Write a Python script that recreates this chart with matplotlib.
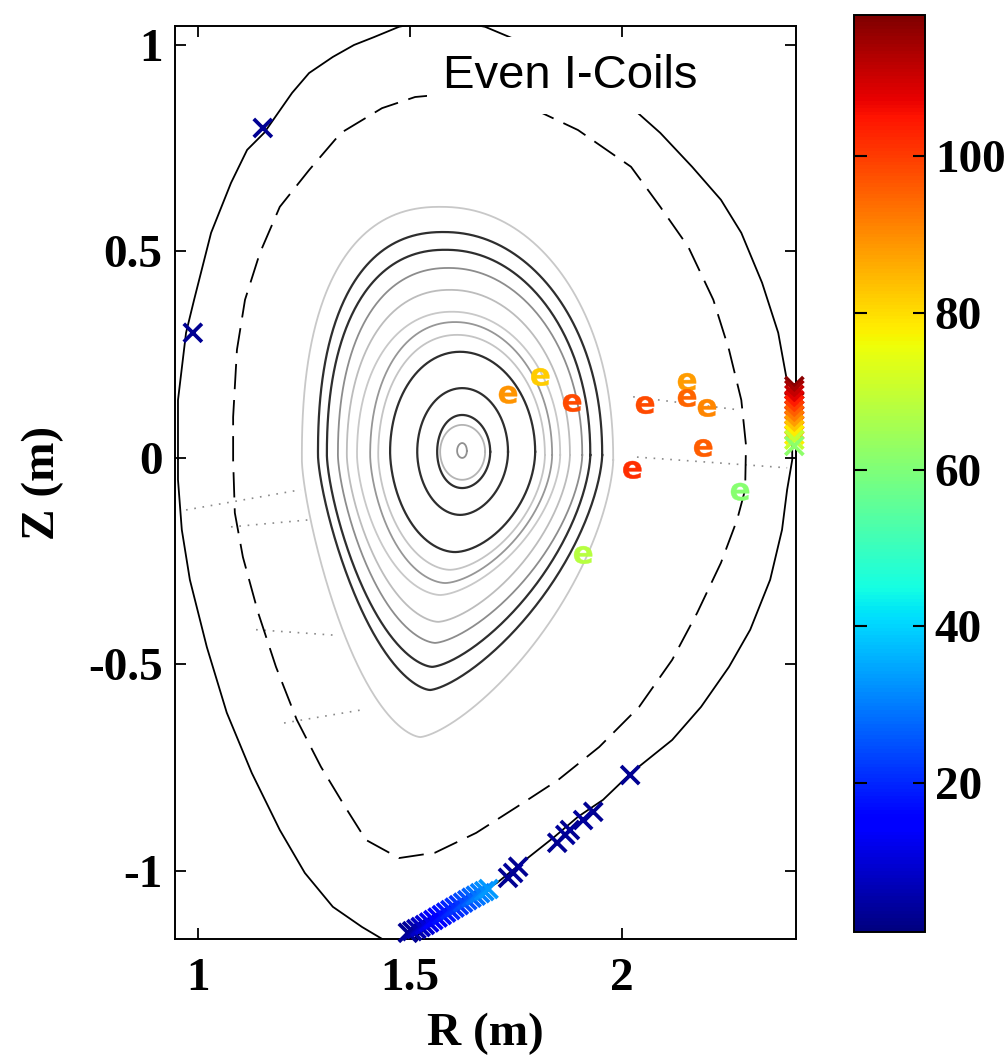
import matplotlib
matplotlib.use('Agg')
import matplotlib.pyplot as plt
import matplotlib.colors as mcolors
import matplotlib.cm as cm
import numpy as np

plt.rcParams['axes.unicode_minus'] = False
plt.rcParams['font.family'] = 'Liberation Serif'
plt.rcParams['font.weight'] = 'bold'

# vessel wall (m)
wall_r = [0.953, 0.953, 0.972, 0.991, 1.031, 1.078, 1.116, 1.156, 1.222, 1.262, 1.318, 1.368, 1.415,
          1.474, 1.571, 1.677, 1.807, 1.925, 2.021, 2.090, 2.165, 2.233, 2.281, 2.330, 2.368, 2.387,
          2.401, 2.401, 2.389, 2.377, 2.349, 2.302, 2.252, 2.186, 2.118, 2.021, 1.955, 1.896, 1.840,
          1.781, 1.705, 1.618, 1.547, 1.512, 1.476, 1.441, 1.387, 1.318, 1.252, 1.193, 1.127,
          1.068, 1.021, 0.981, 0.962, 0.953, 0.953]
wall_z = [-0.002, 0.140, 0.303, 0.383, 0.545, 0.666, 0.746, 0.787, 0.884, 0.932, 0.971, 1.000, 1.019,
          1.044, 1.065, 1.044, 0.988, 0.920, 0.850, 0.787, 0.705, 0.625, 0.545, 0.424, 0.303, 0.196,
          0.044, -0.005, -0.077, -0.174, -0.295, -0.416, -0.506, -0.603, -0.683, -0.763, -0.828, -0.869, -0.918,
          -0.966, -1.029, -1.082, -1.131, -1.162, -1.177, -1.169, -1.136, -1.087, -1.005, -0.901, -0.763,
          -0.617, -0.458, -0.295, -0.174, -0.053, -0.002]

# dashed boundary
bdry_r = [1.618, 1.781, 1.896, 2.021, 2.090, 2.156, 2.215, 2.252, 2.281, 2.292, 2.290, 2.271,
          2.233, 2.177, 2.118, 2.040, 1.946, 1.849, 1.752, 1.656, 1.559, 1.474, 1.396, 1.347,
          1.290, 1.233, 1.184, 1.142, 1.106, 1.087, 1.083, 1.083, 1.092, 1.111, 1.146, 1.193,
          1.262, 1.337, 1.434, 1.512, 1.618]
bdry_z = [0.884, 0.850, 0.794, 0.705, 0.608, 0.511, 0.383, 0.262, 0.140, 0.031, -0.077, -0.150,
          -0.254, -0.375, -0.489, -0.603, -0.700, -0.780, -0.845, -0.908, -0.956, -0.969, -0.925, -0.845,
          -0.748, -0.634, -0.506, -0.375, -0.240, -0.133, -0.005, 0.099, 0.262, 0.383, 0.496, 0.608,
          0.697, 0.787, 0.847, 0.874, 0.884]

# flux surfaces, outside in
surf_rin = [1.245, 1.283, 1.304, 1.330, 1.351, 1.375, 1.406, 1.425, 1.453, 1.517, 1.564, 1.571, 1.611]
surf_rout = [1.979, 1.953, 1.925, 1.906, 1.877, 1.854, 1.835, 1.818, 1.795, 1.731, 1.689, 1.677, 1.634]
surf_ztop = [0.608, 0.547, 0.504, 0.460, 0.407, 0.354, 0.329, 0.298, 0.257, 0.169, 0.104, 0.080, 0.036]
surf_zbot = [-0.676, -0.562, -0.506, -0.448, -0.397, -0.332, -0.303, -0.271, -0.228, -0.138, -0.073, -0.053, 0.000]
surf_rtop = [1.571, 1.578, 1.583, 1.590, 1.594, 1.599, 1.606, 1.611, 1.618, 1.623, 1.623, 1.623, 1.623]
surf_rbot = [1.524, 1.547, 1.552, 1.559, 1.566, 1.571, 1.583, 1.594, 1.606, 1.618, 1.623, 1.623, 1.623]
surf_zmid = [-0.005, 0.007, 0.007, 0.007, 0.007, 0.007, 0.007, 0.007, 0.015, 0.015, 0.015, 0.015, 0.017]
surf_pt_low = [1.33, 1.33, 1.3, 1.28, 1.25, 1.2, 1.18, 1.15, 1.1, 1.05, 1.0, 1.0, 1.0]
surf_pt_up = [0.9, 0.92, 0.93, 0.94, 0.95, 0.96, 0.97, 0.98, 1.0, 1.0, 1.0, 1.0, 1.0]
surf_col = ['#c8c8c8', '#2e2e2e', '#2e2e2e', '#8c8c8c', '#bcbcbc', '#c8c8c8', '#969696',
            '#c4c4c4', '#2e2e2e', '#2e2e2e', '#2e2e2e', '#b4b4b4', '#909090']

# faint dotted chords
chord_r = [[0.972, 1.243], [1.078, 1.262], [1.137, 1.318], [1.203, 1.387], [2.026, 2.278], [2.035, 2.389]]
chord_z = [[-0.126, -0.077], [-0.167, -0.150], [-0.416, -0.429], [-0.642, -0.610], [0.148, 0.116], [0.002, -0.024]]

# magnetic probes (x markers)
probe_r = [1.153, 0.988, 2.019, 1.932, 1.908, 1.877, 1.866, 1.847, 1.755, 1.743, 1.731,
           1.495, 1.505, 1.515, 1.525, 1.535, 1.545, 1.555, 1.565, 1.575, 1.585,
           1.595, 1.605, 1.615, 1.625, 1.635, 1.645, 1.655, 1.665, 1.675, 1.685,
           2.406, 2.406, 2.406, 2.406, 2.406, 2.406, 2.406, 2.406, 2.406, 2.406, 2.406, 2.406, 2.406]
probe_z = [0.799, 0.303, -0.768, -0.857, -0.877, -0.901, -0.913, -0.932, -0.990, -1.005, -1.017,
           -1.150, -1.146, -1.141, -1.136, -1.131, -1.125, -1.119, -1.113, -1.107, -1.101,
           -1.095, -1.089, -1.083, -1.077, -1.071, -1.065, -1.060, -1.054, -1.049, -1.044,
           0.174, 0.165, 0.153, 0.140, 0.128, 0.116, 0.104, 0.092, 0.080, 0.068, 0.056, 0.044, 0.029]
probe_val = [3, 3, 3, 3, 4, 3, 4, 3, 3, 4, 3,
             3, 4, 6, 8, 10, 12, 14, 15, 17, 18,
             20, 21, 22, 24, 25, 27, 29, 30, 32, 33,
             117, 114, 111, 108, 104, 100, 96, 92, 88, 83, 78, 70, 62]

# 'e' markers
e_r = [1.731, 1.807, 1.882, 2.054, 2.153, 2.153, 2.200, 2.191, 2.024, 2.278, 1.908]
e_z = [0.153, 0.196, 0.133, 0.128, 0.184, 0.145, 0.121, 0.024, -0.029, -0.082, -0.235]
e_val = [89, 82, 98, 98, 88, 95, 91, 96, 102, 61, 68]

vmin, vmax = 1, 118


def surface(rin, rout, ztop, zbot, rtop, rbot, zmid, el, eu):
    # superellipse halves, shifted toward the R of the top / bottom point
    rc = (rin + rout) / 2
    a = (rout - rin) / 2
    t = np.linspace(0, np.pi, 300)
    c, s = np.cos(t), np.sin(t)
    vu = s ** eu
    ru = rc + a * np.sign(c) * np.abs(c) ** eu + (rtop - rc) * vu ** 2
    zu = zmid + (ztop - zmid) * vu
    vl = s ** el
    rl = rc + a * np.sign(c) * np.abs(c) ** el + (rbot - rc) * vl ** 2
    zl = zmid - (zmid - zbot) * vl
    return np.concatenate([ru, rl[::-1]]), np.concatenate([zu, zl[::-1]])


fig = plt.figure(figsize=(10.07, 10.56), dpi=100)
ax = fig.add_axes([0.1738, 0.1108, 0.6167, 0.8646])
cax = fig.add_axes([0.8481, 0.1174, 0.0705, 0.8684])

ax.plot(wall_r, wall_z, color='black', lw=1.3, zorder=2)
ax.plot(bdry_r, bdry_z, color='black', lw=1.3, linestyle=(0, (14, 6)), zorder=2)

for i in range(len(surf_rin)):
    r, z = surface(surf_rin[i], surf_rout[i], surf_ztop[i], surf_zbot[i], surf_rtop[i],
                   surf_rbot[i], surf_zmid[i], surf_pt_low[i], surf_pt_up[i])
    lw = 1.6 if surf_col[i] == '#2e2e2e' else 1.3
    ax.plot(r, z, color=surf_col[i], lw=lw, zorder=1)

for cr, cz in zip(chord_r, chord_z):
    ax.plot(cr, cz, color='#8a8a8a', lw=1.2, linestyle=(0, (1, 4)), zorder=1)

norm = mcolors.Normalize(vmin=vmin, vmax=vmax)
ax.scatter(probe_r, probe_z, c=probe_val, cmap='jet', norm=norm, marker='x',
           s=170, linewidths=2.7, zorder=4, clip_on=False)
ax.scatter(e_r, e_z, c=e_val, cmap='jet', norm=norm, marker=r'$\mathbf{e}$',
           s=170, linewidths=0.3, zorder=5)

ax.text(1.578, 0.896, 'Even I-Coils', family='Liberation Sans', weight='normal', fontsize=34,
        ha='left', va='baseline', zorder=6,
        bbox=dict(boxstyle='square,pad=0.35', facecolor='white', edgecolor='none'))

ax.set_xlim(0.946, 2.410)
ax.set_ylim(-1.165, 1.046)
ax.set_xticks([1, 1.5, 2])
ax.set_xticklabels(['1', '1.5', '2'])
ax.set_yticks([-1, -0.5, 0, 0.5, 1])
ax.set_yticklabels(['-1', '-0.5', '0', '0.5', '1'])
ax.tick_params(direction='in', top=True, right=True, length=8, width=1.3, labelsize=34)
ax.tick_params(axis='x', pad=14)
ax.tick_params(axis='y', pad=9)
for sp in ax.spines.values():
    sp.set_linewidth(1.4)
ax.set_xlabel('R (m)', fontsize=34, fontweight='bold', labelpad=9)
ax.set_ylabel('Z (m)', fontsize=34, fontweight='bold', labelpad=17)

sm = cm.ScalarMappable(norm=norm, cmap='jet')
cb = fig.colorbar(sm, cax=cax)
cb.set_ticks([20, 40, 60, 80, 100])
cax.tick_params(direction='in', left=True, right=True, length=9, width=1.5, labelsize=34, pad=7)
cb.outline.set_linewidth(1.4)

fig.savefig('out.png', dpi=100)
